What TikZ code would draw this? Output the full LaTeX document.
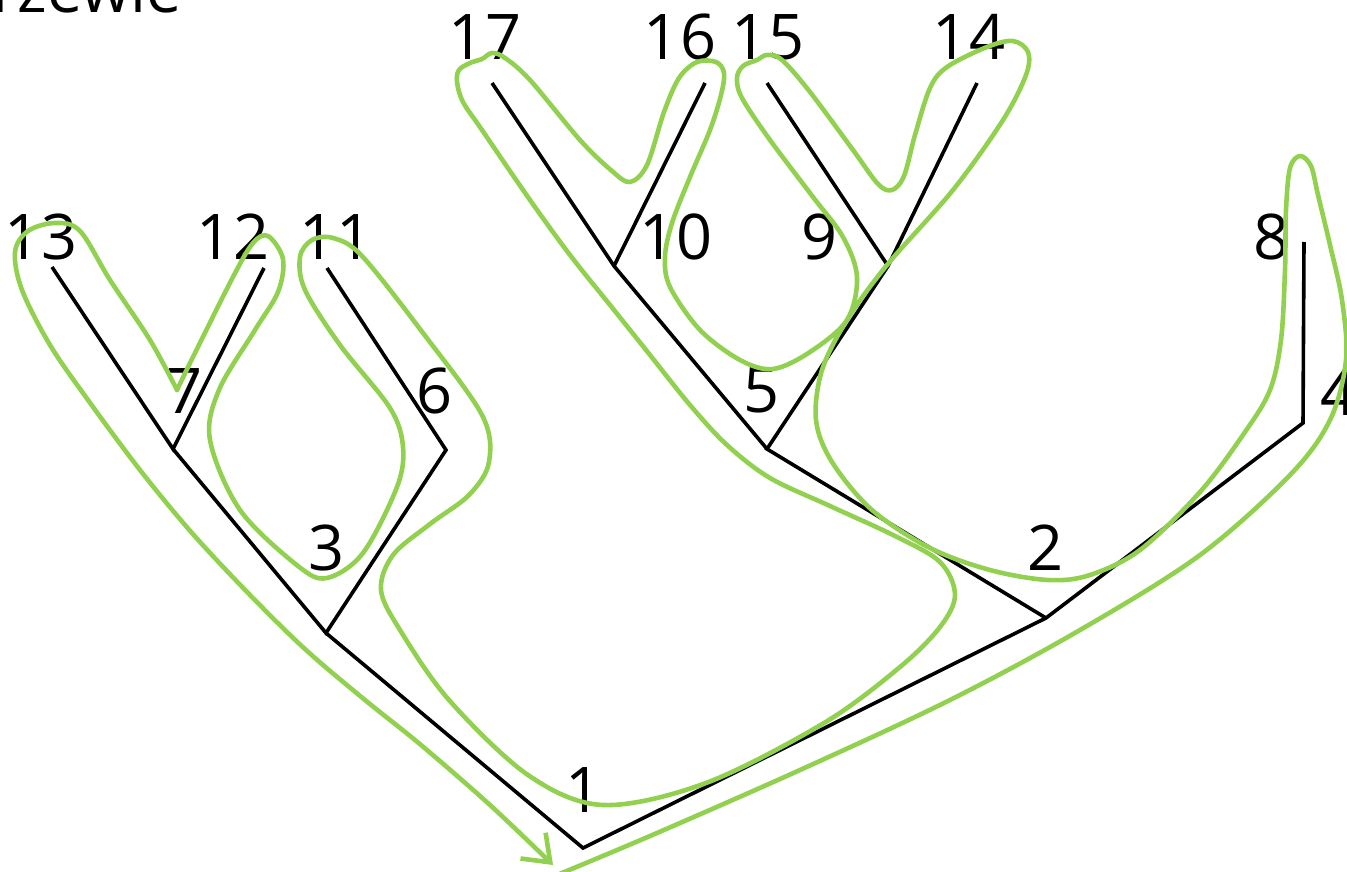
\documentclass[tikz,border=0pt]{standalone}
\usepackage{fontspec}
\setmainfont{Open Sans}
\usetikzlibrary{arrows.meta}
\definecolor{tourgreen}{RGB}{146,208,80}
\begin{document}
\begin{tikzpicture}[x=1pt,y=-1pt,
  lbl/.style={font=\fontsize{63}{63}\selectfont, inner sep=0pt, text=black},
  edge/.style={draw=black, line width=3.6pt},
  tour/.style={draw=tourgreen, line width=4.6pt, line join=round, line cap=round}]
\useasboundingbox (0,0) rectangle (1347,872);
\clip (0,0) rectangle (1347,872);

% tree vertices
\coordinate (n1) at (583,848);
\coordinate (n2) at (1046,618);
\coordinate (n3) at (326,633);
\coordinate (n4) at (1303,423);
\coordinate (n5) at (767,449);
\coordinate (n6) at (446,450);
\coordinate (n7) at (173,449);
\coordinate (n8) at (1304,242);
\coordinate (n9) at (888,266);
\coordinate (n10) at (614,266);
\coordinate (n11) at (327,268);
\coordinate (n12) at (264,268);
\coordinate (n13) at (52,267);
\coordinate (n14) at (977,83);
\coordinate (n15) at (767,83);
\coordinate (n16) at (705,83);
\coordinate (n17) at (492,83);

% labels
\node[lbl] (t0) [anchor=base east] at (182,13) {rzewie};
\node[lbl] (l1) at (584,790) {1};
\node[lbl] (l2) at (1045,548) {2};
\node[lbl] (l3) at (327,548) {3};
\node[lbl] (l4) at (1338,393) {4};
\node[lbl] (l5) at (762,390) {5};
\node[lbl] (l6) at (435,391) {6};
\node[lbl] (l7) at (185,391) {7};
\node[lbl] (l8) at (1271,237) {8};
\node[lbl] (l9) at (820,237) {9};
\node[lbl] (l10) at (676,237) {10};
\node[lbl] (l11) at (336,237) {11};
\node[lbl] (l12) at (233,237) {12};
\node[lbl] (l13) at (41,237) {13};
\node[lbl] (l14) at (969,37) {14};
\node[lbl] (l15) at (768,37) {15};
\node[lbl] (l16) at (680,37) {16};
\node[lbl] (l17) at (485,37) {17};

% tree edges
\draw[edge] (n13) -- (n7) -- (n12);
\draw[edge] (n7) -- (n3) -- (n6) -- (n11);
\draw[edge] (n3) -- (n1) -- (n2) -- (n4) -- (n8);
\draw[edge] (n2) -- (n5) -- (n9) -- (n14);
\draw[edge] (n9) -- (n15);
\draw[edge] (n5) -- (n10) -- (n17);
\draw[edge] (n10) -- (n16);

% green tour, part A
\draw[tour] plot[smooth, tension=0.55] coordinates {
 (545,880) (650,836) (800,770) (950,700) (1080,630) (1200,555) (1290,475)
 (1330,420) (1346,360) (1342,300) (1330,245) (1318,195) (1311,166) (1300,156)
 (1290,168) (1286,210) (1285,270) (1281,340) (1270,390) (1245,432) (1200,492)
 (1140,550) (1090,575) (1048,580) (990,570) (930,548) (872,510) (832,462)
 (816,420) (822,370) (847,320) (887,265) (953,190) (1003,120) (1026,75)
 (1028,52) (1013,41) (987,47) (947,67) (930,88) (915,135) (904,176) (892,190)
 (878,184) (853,150) (810,92) (782,60) (767,55) (757,60) (743,66) (737,78)
 (742,98) (770,140) (813,197) (843,237) (857,277) (847,320) (810,352)
 (773,369) (740,360) (700,330) (670,287) (665,257) (672,223) (690,177)
 (710,130) (721,95) (724,73) (716,62) (697,62) (679,78) (664,112) (647,165)
 (630,182) (612,171) (580,140) (530,80) (505,58) (492,53) (482,59) (470,63)
 (459,70) (457,82) (463,102) (482,130) (530,200) (570,255) (610,305)
 (650,355) (690,405) (727,445) (770,478) (830,506) (895,536) (940,562)
 (955,595) (940,627) (900,667) (824,723) (706,783) (603,805) (528,775)
 (449,700) (400,630) (381,590) (393,555) (430,524) (469,495) (489,462)
 (482,415) (423,333) (362,256) (333,238) (312,240) (300,257) (305,290)
 (340,345) (390,408) (403,447) (397,487) (363,553) (327,578) (298,566)
 (240,510) (210,440) (219,390) (255,330) (278,292) (283,259) (268,236)
 (253,243) (233,277) (193,357) (177,390)};

% green tour, part B with arrow
\draw[tour, -{Straight Barb[length=24pt, width=36pt, line width=4.6pt]}]
 plot[smooth, tension=0.55] coordinates {
 (177,390) (150,340) (110,280) (80,231) (55,223) (28,231) (15,252) (22,290)
 (50,345) (88,400) (140,470) (192,533) (250,595) (306,650) (365,700)
 (421,745) (490,805) (553,865)};
\end{tikzpicture}
\end{document}
